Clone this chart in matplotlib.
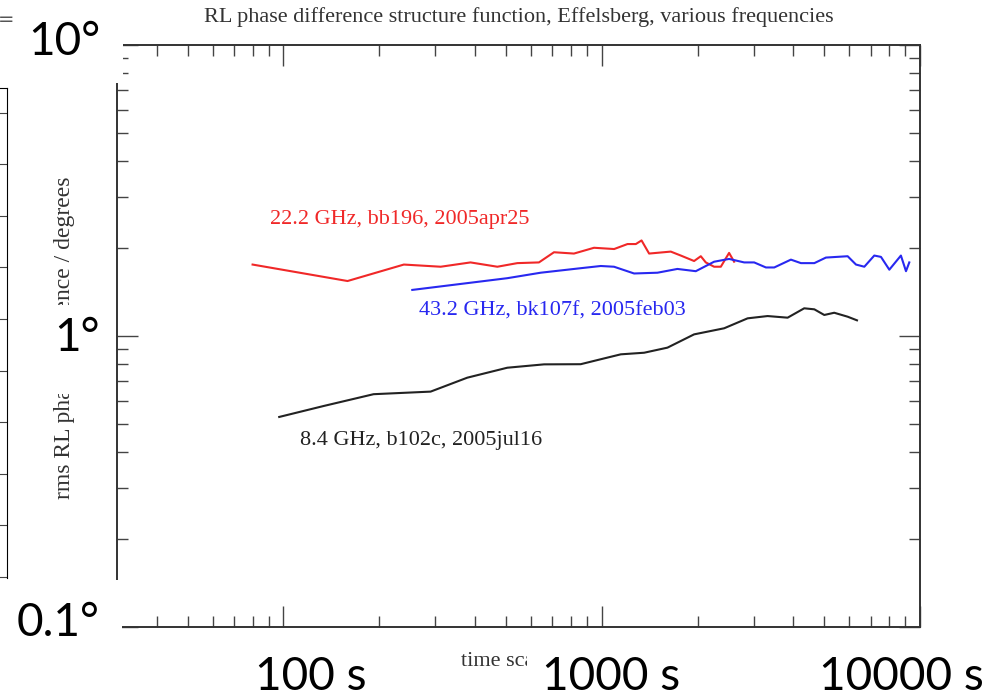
import numpy as np
import matplotlib.pyplot as plt
from matplotlib.patches import Rectangle

# 22.2 GHz, bb196, 2005apr25
t_22 = [80, 159, 239, 312, 387, 470, 543, 635, 708, 818, 946, 1094, 1205, 1280,
        1334, 1409, 1648, 1772, 1951, 2048, 2123, 2255, 2367, 2513, 2606]
v_22 = [1.76, 1.545, 1.76, 1.73, 1.79, 1.73, 1.78, 1.79, 1.94, 1.92, 2.01, 1.99, 2.07, 2.07,
        2.13, 1.92, 1.95, 1.89, 1.81, 1.88, 1.79, 1.73, 1.73, 1.93, 1.80]

# 43.2 GHz, bk107f, 2005feb03
t_43 = [254, 327, 505, 643, 859, 993, 1093, 1264, 1497, 1729, 1975, 2255, 2513, 2803, 3013,
        3280, 3484, 3930, 4226, 4656, 5063, 5925, 6293, 6685, 7184, 7540, 8010, 8710, 9036, 9254]
v_43 = [1.44, 1.49, 1.58, 1.65, 1.71, 1.74, 1.73, 1.64, 1.65, 1.70, 1.67, 1.80, 1.84, 1.79, 1.79,
        1.72, 1.72, 1.83, 1.78, 1.78, 1.86, 1.88, 1.76, 1.73, 1.89, 1.87, 1.69, 1.89, 1.67, 1.79]

# 8.4 GHz, b102c, 2005jul16
t_84 = [97, 134, 192, 290, 378, 505, 659, 859, 993, 1148, 1359, 1609, 1951, 2425, 2873,
        3320, 3838, 4327, 4656, 5003, 5377, 5925, 6339]
v_84 = [0.527, 0.575, 0.631, 0.644, 0.719, 0.778, 0.799, 0.80, 0.832, 0.865, 0.876, 0.912,
        1.013, 1.063, 1.150, 1.171, 1.156, 1.245, 1.235, 1.181, 1.202, 1.165, 1.132]

x_labels = ["100 s", "1000 s", "10000 s"]
y_labels = ["10°", "1°", "0.1°"]

W, H = 1004, 697
fig = plt.figure(figsize=(W / 100, H / 100), dpi=100)

def fx(px):
    return px / W

def fy(py):
    return 1 - py / H

serif = "Liberation Serif"
red, blue, black = "#f02828", "#2828f0", "#222222"

ax = fig.add_axes([fx(117), fy(627), fx(920) - fx(117), fy(45) - fy(627)])
ax.plot(t_22, v_22, color=red, lw=1.5)
ax.plot(t_43, v_43, color=blue, lw=1.5)
ax.plot(t_84, v_84, color=black, lw=1.5)
ax.set_xscale("log")
ax.set_yscale("log")
ax.set_xlim(30, 10000)
ax.set_ylim(0.1, 10)
for s in ax.spines.values():
    s.set_color("#333333")
    s.set_linewidth(1.4)
ax.tick_params(which="both", direction="in", top=True, right=True,
               labelbottom=False, labelleft=False, color="#444444", width=1)
ax.tick_params(which="major", length=15)
ax.tick_params(which="minor", length=8)

ax.text(91, 2.52, "22.2 GHz, bb196, 2005apr25", color=red, family=serif,
        fontsize=16, ha="left", va="center")
ax.text(266, 1.22, "43.2 GHz, bk107f, 2005feb03", color=blue, family=serif,
        fontsize=16, ha="left", va="center")
ax.text(113, 0.436, "8.4 GHz, b102c, 2005jul16", color=black, family=serif,
        fontsize=16, ha="left", va="center")

ax.set_xlabel("time scale / s", family=serif, fontsize=16, color="#333333")
ax.xaxis.set_label_coords(0.5, -0.043)
ax.set_ylabel("rms RL phase difference / degrees", family=serif, fontsize=17, color="#333333")
ax.yaxis.set_label_coords(-0.052, 0.497)

fig.text(fx(519), fy(17), "RL phase difference structure function, Effelsberg, various frequencies",
         family=serif, fontsize=16, color="#333333", ha="center", va="center")

# edge of a neighbouring panel at the far left
side = fig.add_axes([fx(-60), fy(578), fx(67), fy(88) - fy(578)])
side.set_xlim(0, 1)
side.set_ylim(0, 490)
side.set_yticks(np.arange(1, 480, 51.6))
side.set_xticks([])
side.yaxis.tick_right()
side.tick_params(axis="y", direction="in", length=7, labelright=False, color="#444444")
for k in ["left", "bottom"]:
    side.spines[k].set_visible(False)
side.patch.set_alpha(0)
fig.text(fx(-2), fy(20), "=", fontsize=14, color="#555555", ha="left", va="center")

# white patches under the big labels
for x0, y0, x1, y1 in [(20, 0, 123, 83), (45, 305, 112, 394), (12, 580, 122, 660), (527, 640, 700, 697)]:
    fig.add_artist(Rectangle((fx(x0), fy(y1)), fx(x1) - fx(x0), fy(y0) - fy(y1),
                             transform=fig.transFigure, facecolor="white",
                             edgecolor="none", zorder=5))

big = dict(family="Lato", fontsize=33, color="black", zorder=6, va="center")
fig.text(fx(100), fy(42), y_labels[0], ha="right", **big)
fig.text(fx(100), fy(338), y_labels[1], ha="right", **big)
fig.text(fx(100), fy(623), y_labels[2], ha="right", **big)
fig.text(fx(311), fy(677), x_labels[0], ha="center", **big)
fig.text(fx(611), fy(677), x_labels[1], ha="center", **big)
fig.text(fx(901), fy(677), x_labels[2], ha="center", **big)

fig.savefig("out.png", dpi=100)
